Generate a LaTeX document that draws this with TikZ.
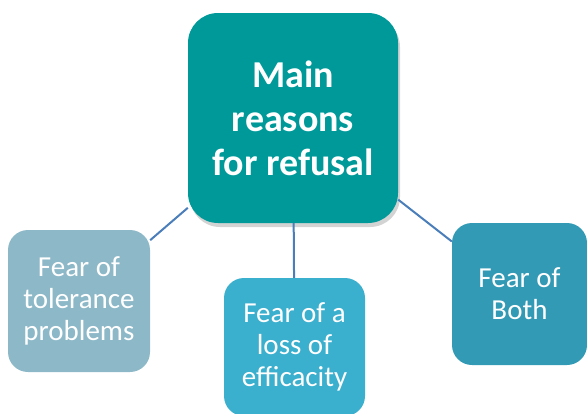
\documentclass[tikz,border=0pt]{standalone}
\usepackage{fontspec}
\setmainfont{Carlito}
\usetikzlibrary{shadows}

\definecolor{mainteal}{RGB}{0,153,153}
\definecolor{tolgray}{RGB}{141,184,200}
\definecolor{effblue}{RGB}{59,175,206}
\definecolor{bothblue}{RGB}{51,154,181}
\definecolor{linkblue}{RGB}{74,126,187}

\begin{document}
\begin{tikzpicture}[x = 1pt, y = -1pt,
	mainbox/.style = {rectangle, rounded corners = 30pt, fill = mainteal, text = white, align = center, minimum width = 210pt, minimum height = 210pt, inner sep = 0pt, font = \fontsize{38}{44}\selectfont\bfseries, drop shadow = {shadow xshift = 2pt, shadow yshift = -4pt, opacity = 0.35}},
	fearbox/.style = {rectangle, rounded corners = 20pt, text = white, align = center, inner sep = 0pt, font = \fontsize{29}{32}\selectfont},
	link/.style = {draw = linkblue, line width = 2pt}]
	 \useasboundingbox (0, 0) rectangle (587, 413);
	 
	 \node[mainbox] (main) at (293, 118) {Main\\reasons\\for refusal};
	 
	 \node[fearbox, fill = tolgray, minimum width = 142pt, minimum height = 142pt] (tol) at (79, 301) {Fear of\\tolerance\\problems};
	 
	 \node[fearbox, fill = effblue, minimum width = 141pt, minimum height = 138pt] (eff) at (294.5, 347) {Fear of a\\loss of\\efficacity};
	 
	 \node[fearbox, fill = bothblue, minimum width = 135pt, minimum height = 142pt] (both) at (519.5, 294) {Fear of\\Both};
	 
	 \draw[link] (main) -- (tol);
	 \draw[link] (main) -- (eff);
	 \draw[link] (main) -- (both);
\end{tikzpicture}
\end{document}
